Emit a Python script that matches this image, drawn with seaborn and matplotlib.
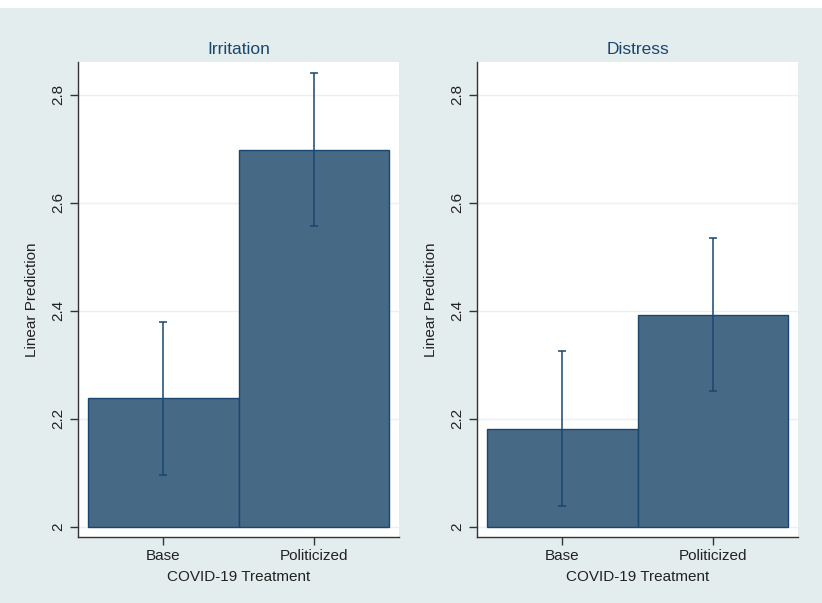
import seaborn as sns
import matplotlib.pyplot as plt
import pandas as pd
from matplotlib.patches import Rectangle

# data
groups = ["Base", "Politicized"]
panels = ["Irritation", "Distress"]
irritation_mean = [2.239, 2.698]
irritation_lo = [2.096, 2.558]
irritation_hi = [2.380, 2.840]
distress_mean = [2.182, 2.393]
distress_lo = [2.039, 2.252]
distress_hi = [2.326, 2.535]

sns.set_theme(style="white")
plt.rcParams['font.family'] = ['Liberation Sans', 'DejaVu Sans']

bg = "#e4eded"
bar_fill = "#466986"
navy = "#1a476f"

fig = plt.figure(figsize=(8.22, 6.03), dpi=100, facecolor=bg)
fig.patches.append(Rectangle((0, 1 - 8 / 603), 1, 8 / 603, transform=fig.transFigure,
                             facecolor="white", edgecolor="none", zorder=-1))

W, H = 822, 603
boxes = [(78, 399), (477, 798)]
top, bottom = 62, 537

data = [(irritation_mean, irritation_lo, irritation_hi),
        (distress_mean, distress_lo, distress_hi)]

for (x0, x1), title, (mean, lo, hi) in zip(boxes, panels, data):
    ax = fig.add_axes([x0 / W, (H - bottom) / H, (x1 - x0) / W, (bottom - top) / H])
    df = pd.DataFrame({"group": groups, "value": mean})
    sns.barplot(data=df, x="group", y="value", ax=ax, width=1.0,
                color=bar_fill, saturation=1, edgecolor=navy, linewidth=1.0,
                errorbar=None)
    # bars start at 2, like Stata's base
    for p in ax.patches:
        h = p.get_height()
        p.set_y(2)
        p.set_height(h - 2)
    err = [[m - l for m, l in zip(mean, lo)], [h - m for m, h in zip(mean, hi)]]
    ax.errorbar(range(len(groups)), mean, yerr=err, fmt="none", ecolor=navy,
                elinewidth=1.1, capsize=3, capthick=1.1, zorder=5)

    ax.set_ylim(1.981, 2.861)
    ax.set_xlim(-0.563, 1.563)
    ax.set_yticks([2, 2.2, 2.4, 2.6, 2.8])
    ax.set_yticklabels(["2", "2.2", "2.4", "2.6", "2.8"], rotation=90, va="center")
    ax.grid(axis="y", color="#e8f0f0", linewidth=1)
    ax.set_axisbelow(True)
    ax.set_facecolor("white")
    for s in ["top", "right"]:
        ax.spines[s].set_visible(False)
    for s in ["left", "bottom"]:
        ax.spines[s].set_color("#333333")
        ax.spines[s].set_linewidth(1.0)
    ax.tick_params(axis="both", direction="out", length=6, width=1, color="#333333",
                   labelsize=11, labelcolor="#222222", left=True, bottom=True, pad=3)
    ax.set_title(title, fontsize=12.5, color=navy, pad=6)
    ax.set_xlabel("COVID-19 Treatment", fontsize=11, color="#222222", labelpad=5)
    ax.set_ylabel("Linear Prediction", fontsize=11, color="#222222", labelpad=9)

fig.savefig("out.png", dpi=100, facecolor=bg)
